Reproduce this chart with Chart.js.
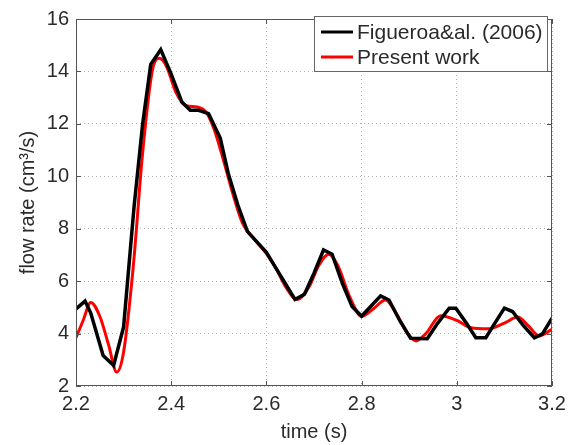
<!DOCTYPE html>
<html>
<head>
<meta charset="utf-8">
<script src="https://cdn.jsdelivr.net/npm/chart.js@4"></script>
<style>
  html, body { margin: 0; padding: 0; background: #fff; }
  #wrap { width: 579px; height: 445px; }
</style>
</head>
<body>
<div id="wrap"><canvas id="flow" width="579" height="445"></canvas></div>
<script>
// Figueroa & al. (2006), piecewise linear
const figTime = [2.2, 2.219, 2.231, 2.257, 2.279, 2.3, 2.322, 2.34, 2.357, 2.378, 2.4, 2.4225, 2.44, 2.4575, 2.4786,
    2.503, 2.52, 2.54, 2.56, 2.58, 2.6, 2.62, 2.64, 2.66, 2.68, 2.7, 2.72, 2.738, 2.76, 2.78, 2.8, 2.82, 2.84,
    2.8575, 2.88, 2.903, 2.938, 2.96, 2.984, 2.998, 3.02, 3.04, 3.061, 3.08, 3.1, 3.117, 3.14, 3.163, 3.18, 3.2];
const figFlow = [4.94, 5.24, 4.78, 3.16, 2.78, 4.25, 8.84, 12.0, 14.27, 14.83, 13.9, 12.83, 12.52, 12.52, 12.39,
    11.46, 10.1, 8.9, 7.9, 7.5, 7.1, 6.5, 5.9, 5.3, 5.5, 6.3, 7.19, 7.03, 5.9, 5.03, 4.66, 5.05, 5.44,
    5.28, 4.5, 3.82, 3.8, 4.4, 4.97, 4.97, 4.4, 3.84, 3.84, 4.4, 4.97, 4.84, 4.3, 3.84, 3.99, 4.59];

// Present work, smooth
const workTime = [2.2, 2.215, 2.231, 2.25, 2.268, 2.2856, 2.3, 2.32, 2.34, 2.36, 2.375, 2.39, 2.41, 2.43, 2.455,
    2.475, 2.49, 2.51, 2.53, 2.55, 2.575, 2.6, 2.62, 2.64, 2.665, 2.69, 2.71, 2.731, 2.75, 2.775, 2.8, 2.825,
    2.85, 2.875, 2.895, 2.914, 2.935, 2.966, 3.0, 3.03, 3.065, 3.1, 3.128, 3.15, 3.173, 3.2];
const workFlow = [3.84, 4.5, 5.19, 4.66, 3.6, 2.53, 3.3, 6.5, 10.9, 14.0, 14.5, 14.2, 13.2, 12.7, 12.64,
    12.4, 11.8, 10.6, 9.3, 8.2, 7.6, 7.05, 6.5, 5.8, 5.3, 5.8, 6.6, 7.03, 6.6, 5.4, 4.66, 4.95,
    5.28, 4.7, 4.05, 3.72, 4.0, 4.68, 4.5, 4.22, 4.18, 4.4, 4.63, 4.3, 3.91, 4.16];

const timeTicks = [2.2, 2.4, 2.6, 2.8, 3.0, 3.2];
const flowTicks = [2, 4, 6, 8, 10, 12, 14, 16];

const toPoints = (xs, ys) => xs.map((x, i) => ({ x: x, y: ys[i] }));

const FONT = 'Liberation Sans, Arial, sans-serif';
const TEXT = '#2a2a2a';

// box round the plot, inward tick marks and the legend
const framePlugin = {
    id: 'frame',
    afterDatasetsDraw(chart) {
        const ctx = chart.ctx;
        const a = chart.chartArea;
        const xs = chart.scales.x, ys = chart.scales.y;
        ctx.save();
        ctx.strokeStyle = '#555';
        ctx.lineWidth = 1;
        ctx.strokeRect(a.left + 0.5, a.top + 0.5, a.right - a.left - 1, a.bottom - a.top - 1);
        ctx.beginPath();
        timeTicks.forEach(t => {
            const px = Math.round(xs.getPixelForValue(t)) + 0.5;
            ctx.moveTo(px, a.bottom); ctx.lineTo(px, a.bottom - 5);
            ctx.moveTo(px, a.top); ctx.lineTo(px, a.top + 5);
        });
        flowTicks.forEach(v => {
            const py = Math.round(ys.getPixelForValue(v)) + 0.5;
            ctx.moveTo(a.left, py); ctx.lineTo(a.left + 5, py);
            ctx.moveTo(a.right, py); ctx.lineTo(a.right - 5, py);
        });
        ctx.stroke();

        // legend
        const lx = 314, ly = 16, lw = 233, lh = 55;
        ctx.fillStyle = '#fff';
        ctx.fillRect(lx, ly, lw, lh);
        ctx.strokeStyle = '#666';
        ctx.strokeRect(lx + 0.5, ly + 0.5, lw, lh);
        ctx.font = '21px ' + FONT;
        ctx.textBaseline = 'middle';
        ctx.textAlign = 'left';
        chart.data.datasets.forEach((ds, i) => {
            const y = ly + 16 + i * 25;
            ctx.strokeStyle = ds.borderColor;
            ctx.lineWidth = 3;
            ctx.beginPath();
            ctx.moveTo(lx + 7, y); ctx.lineTo(lx + 39, y);
            ctx.stroke();
            ctx.fillStyle = TEXT;
            ctx.fillText(ds.label, lx + 43, y + 1);
        });
        ctx.restore();
    }
};

const flowConfig = {
    type: 'line',
    data: {
        datasets: [
            {
                label: 'Figueroa&al. (2006)',
                borderColor: '#000000',
                borderWidth: 3.5,
                tension: 0,
                data: toPoints(figTime, figFlow)
            },
            {
                label: 'Present work',
                borderColor: '#ff0000',
                borderWidth: 3,
                cubicInterpolationMode: 'monotone',
                data: toPoints(workTime, workFlow)
            }
        ]
    },
    options: {
        responsive: false,
        animation: false,
        devicePixelRatio: 1,
        layout: { padding: { left: 0, right: 27, top: 12, bottom: 0 } },
        elements: { point: { radius: 0 } },
        plugins: { legend: { display: false }, tooltip: { enabled: false } },
        scales: {
            x: {
                type: 'linear',
                min: 2.2,
                max: 3.2,
                afterFit: (s) => { s.height = 59; },
                afterBuildTicks: (s) => { s.ticks = timeTicks.map(v => ({ value: v })); },
                grid: { color: '#b5b5b5', lineWidth: 1, drawTicks: false },
                border: { display: false, dash: [1, 3] },
                ticks: {
                    color: TEXT,
                    padding: 6,
                    maxRotation: 0,
                    font: { family: FONT, size: 20 },
                    callback: (v) => String(+v.toFixed(1))
                },
                title: {
                    display: true,
                    text: 'time (s)',
                    color: TEXT,
                    font: { family: FONT, size: 20 },
                    padding: { top: 0, bottom: 1 }
                }
            },
            y: {
                type: 'linear',
                min: 2,
                max: 16,
                afterFit: (s) => { s.width = 76; },
                afterBuildTicks: (s) => { s.ticks = flowTicks.map(v => ({ value: v })); },
                grid: { color: '#b5b5b5', lineWidth: 1, drawTicks: false },
                border: { display: false, dash: [1, 3] },
                ticks: {
                    color: TEXT,
                    padding: 7,
                    font: { family: FONT, size: 20 }
                },
                title: {
                    display: true,
                    text: 'flow rate (cm³/s)',
                    color: TEXT,
                    font: { family: FONT, size: 20 },
                    padding: { top: 16, bottom: 0 }
                }
            }
        }
    },
    plugins: [framePlugin]
};

new Chart(document.getElementById('flow'), flowConfig);
</script>
</body>
</html>
